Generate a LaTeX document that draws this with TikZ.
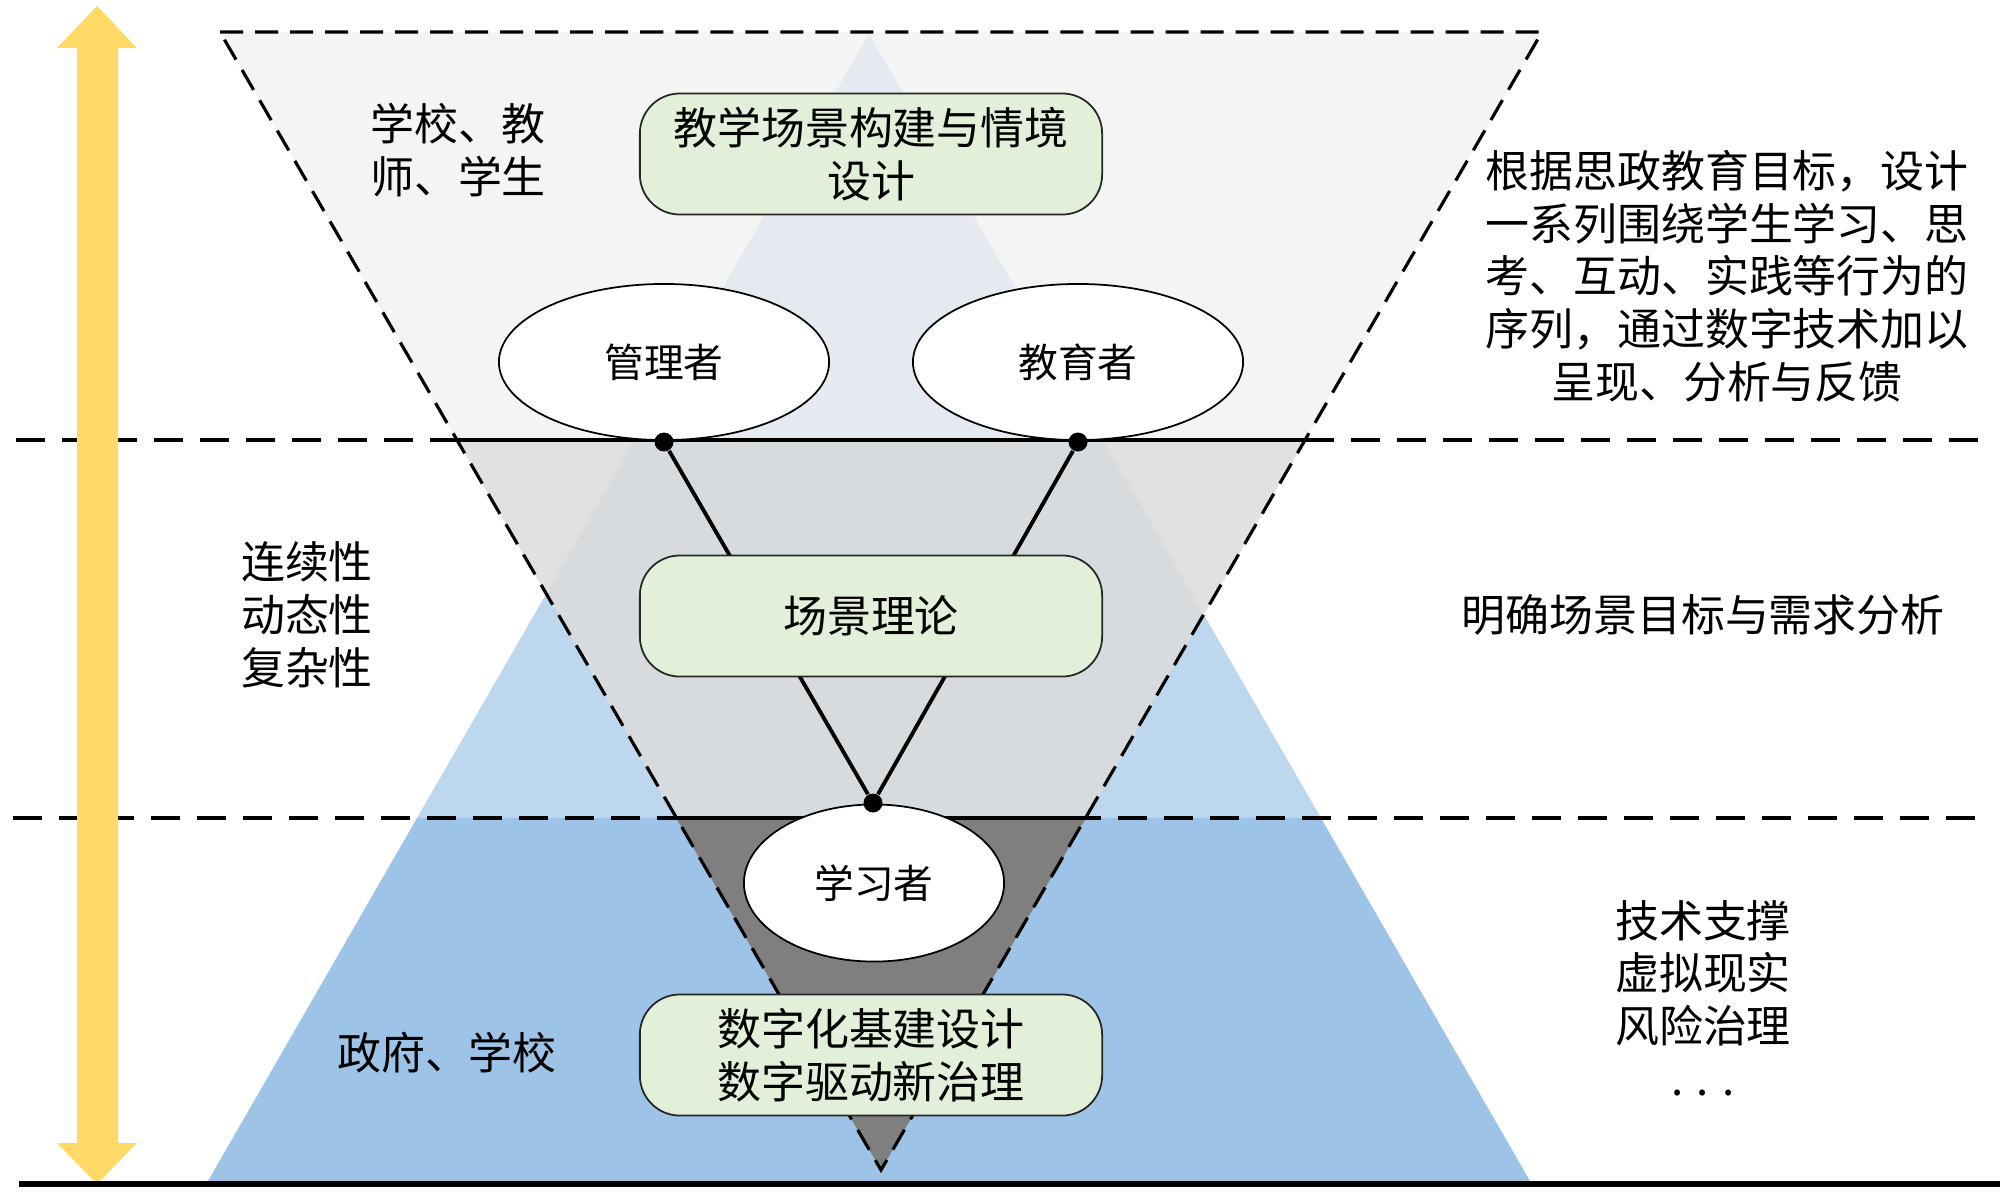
\documentclass[tikz,border=0pt]{standalone}
\usepackage{fontspec}
\setmainfont{Noto Sans CJK SC}
\usepackage{tikz}
\usetikzlibrary{shapes.geometric,calc}
\definecolor{bandtop}{HTML}{F1F1F1}
\definecolor{bandmid}{HTML}{DCDCDC}
\definecolor{bandlow}{HTML}{7F7F7F}
\definecolor{skyblue}{HTML}{BDD7EE}
\definecolor{deepblue}{HTML}{9DC3E6}
\definecolor{boxgreen}{HTML}{E2F0D9}
\definecolor{arrowgold}{HTML}{FFD966}
\newcommand{\lblfont}{\fontsize{12.5pt}{15pt}\selectfont}
\newcommand{\ovalfont}{\fontsize{11.3pt}{14pt}\selectfont}

\begin{document}
\begin{tikzpicture}[x=0.01cm, y=-0.01cm,
    box/.style={rectangle, draw=black!85, line width=0.5pt, rounded corners=0.4cm, fill=boxgreen, minimum width=4.62cm, minimum height=1.21cm, font=\lblfont, align=center, inner sep=0pt},
    oval/.style={ellipse, draw=black, line width=0.5pt, fill=white, font=\ovalfont, inner sep=0pt},
    dot/.style={circle, fill=black, minimum size=0.19cm, inner sep=0pt},
    lbl/.style={font=\lblfont, align=center},
    sep/.style={line width=1.1pt, dash pattern={on 0.29cm off 0.17cm}},
    rim/.style={line width=0.9pt, dash pattern={on 0.23cm off 0.12cm}},
    vline/.style={line width=1.1pt}
]
    \useasboundingbox (0,0) rectangle (2000,1199);

    % Pyramid behind
    \fill[skyblue] (869,34) -- (1321,818) -- (417,818) -- cycle;
    \fill[deepblue] (417,818) -- (1321,818) -- (1530,1181) -- (208,1181) -- cycle;

    % Funnel bands
    \coordinate (tl) at (220,32);
    \coordinate (tr) at (1542,32);
    \coordinate (tip) at (881,1170);
    \coordinate (ml) at (457,440);
    \coordinate (mr) at (1305,440);
    \coordinate (bl) at (676,818);
    \coordinate (br) at (1086,818);
    \fill[bandtop, opacity=0.76] (tl) -- (tr) -- (mr) -- (ml) -- cycle;
    \fill[bandmid, opacity=0.85] (ml) -- (mr) -- (br) -- (bl) -- cycle;
    \fill[bandlow] (bl) -- (br) -- (tip) -- cycle;
    \draw[rim] (tl) -- (tr) -- (tip) -- cycle;

    % Separators
    \draw[sep] (16,440) -- (1982,440);
    \draw[sep] (13,818) -- (1978,818);
    \draw[vline] (ml) -- (mr);
    \draw[vline] (bl) -- (br);

    % Actors
    \node[oval, minimum width=3.30cm, minimum height=1.56cm] (mgr) at (664,362) {管理者};
    \node[oval, minimum width=3.30cm, minimum height=1.56cm] (edu) at (1078,362) {教育者};
    \node[oval, minimum width=2.60cm, minimum height=1.57cm] (lrn) at (874,883) {学习者};

    \node[dot] (dl) at (664,442) {};
    \node[dot] (dr) at (1078,442) {};
    \node[dot] (db) at (873,803) {};
    \draw[vline] (dl) -- (db) -- (dr);

    % Layers
    \node[box] (design) at (871,154) {教学场景构建与情境\\设计};
    \node[box] (theory) at (871,616) {场景理论};
    \node[box] (infra) at (871,1055) {数字化基建设计\\数字驱动新治理};

    % Left labels
    \node[lbl] (who) at (458,150) {学校、教\\师、学生};
    \node[lbl] (traits) at (307,615) {连续性\\动态性\\复杂性};
    \node[lbl] (gov) at (447,1053) {政府、学校};

    % Right labels
    \node[lbl] (goal) at (1727,276) {根据思政教育目标，设计\\一系列围绕学生学习、思\\考、互动、实践等行为的\\序列，通过数字技术加以\\呈现、分析与反馈};
    \node[lbl] (need) at (1703,615) {明确场景目标与需求分析};
    \node[lbl] (tech) at (1703,998) {技术支撑\\虚拟现实\\风险治理\\. . .};

    % Time axis
    \fill[arrowgold] (97,6) -- (137,48) -- (118,48) -- (118,1143) -- (137,1143) -- (97,1184) -- (57,1143) -- (77,1143) -- (77,48) -- (57,48) -- cycle;
    \draw[line width=1.7pt] (19,1184) -- (2000,1184);

\end{tikzpicture}
\end{document}
